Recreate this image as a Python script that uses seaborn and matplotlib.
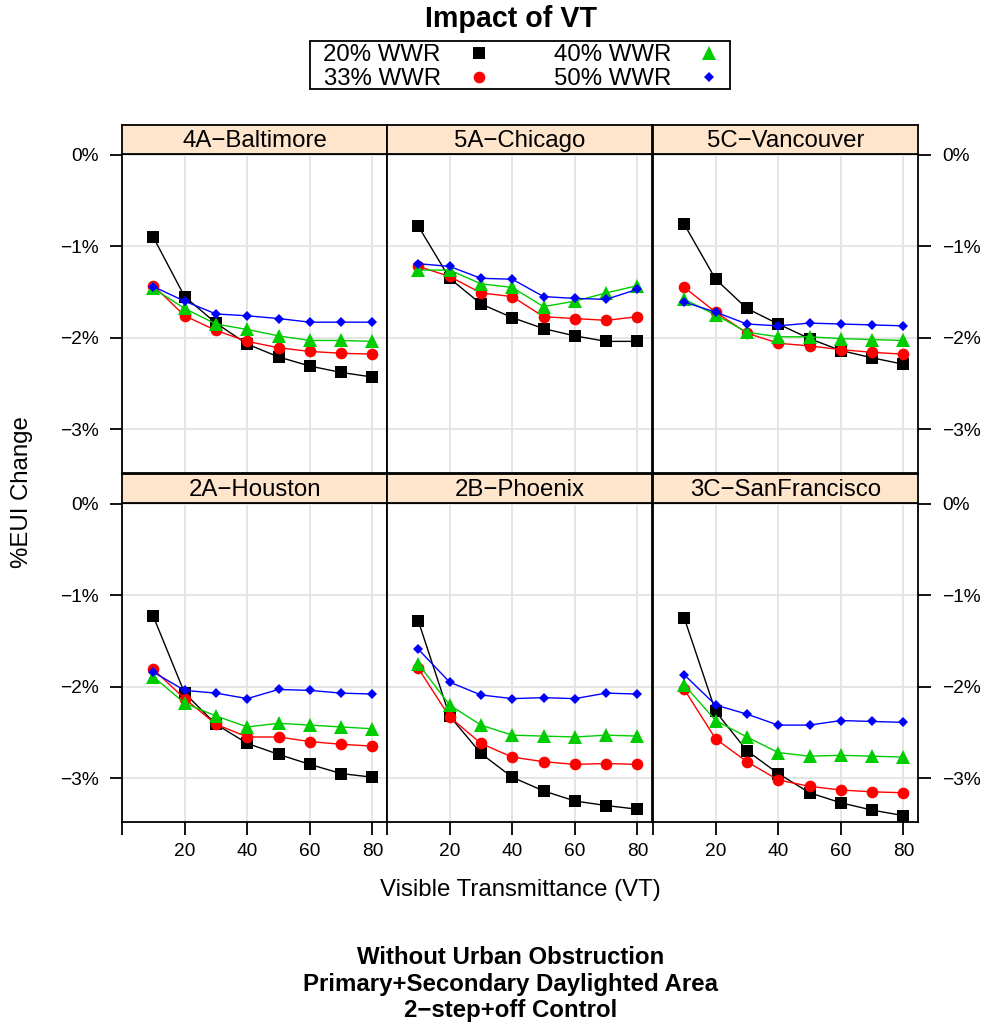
import numpy as np
import pandas as pd
import matplotlib.pyplot as plt
import seaborn as sns
from matplotlib.lines import Line2D
from matplotlib.patches import Rectangle

sns.set_style("white")
plt.rcParams['font.family'] = ['Liberation Sans', 'DejaVu Sans']
plt.rcParams['text.color'] = 'black'
plt.rcParams['axes.labelcolor'] = 'black'
plt.rcParams['xtick.color'] = 'black'
plt.rcParams['ytick.color'] = 'black'

# data (%EUI change), rows = 20%, 33%, 40%, 50% WWR
vt = [10, 20, 30, 40, 50, 60, 70, 80]
wwr_labels = ["20% WWR", "33% WWR", "40% WWR", "50% WWR"]
cities = ["4A\u2212Baltimore", "5A\u2212Chicago", "5C\u2212Vancouver",
          "2A\u2212Houston", "2B\u2212Phoenix", "3C\u2212SanFrancisco"]

baltimore = [[-0.90, -1.55, -1.84, -2.07, -2.21, -2.31, -2.38, -2.43],
             [-1.43, -1.76, -1.92, -2.04, -2.11, -2.15, -2.17, -2.18],
             [-1.46, -1.68, -1.85, -1.91, -1.98, -2.03, -2.03, -2.04],
             [-1.44, -1.60, -1.74, -1.76, -1.79, -1.83, -1.83, -1.83]]
chicago = [[-0.78, -1.35, -1.63, -1.78, -1.90, -1.98, -2.04, -2.04],
           [-1.22, -1.33, -1.51, -1.55, -1.77, -1.79, -1.81, -1.77],
           [-1.26, -1.26, -1.41, -1.45, -1.66, -1.60, -1.51, -1.43],
           [-1.19, -1.22, -1.35, -1.36, -1.55, -1.57, -1.58, -1.47]]
vancouver = [[-0.76, -1.36, -1.68, -1.85, -2.01, -2.14, -2.22, -2.29],
             [-1.45, -1.72, -1.95, -2.06, -2.09, -2.13, -2.16, -2.18],
             [-1.58, -1.75, -1.94, -1.99, -1.99, -2.01, -2.02, -2.03],
             [-1.61, -1.72, -1.85, -1.87, -1.84, -1.85, -1.86, -1.87]]
houston = [[-1.23, -2.07, -2.41, -2.62, -2.74, -2.85, -2.95, -2.99],
           [-1.81, -2.13, -2.41, -2.55, -2.55, -2.60, -2.63, -2.65],
           [-1.89, -2.18, -2.32, -2.44, -2.40, -2.42, -2.44, -2.46],
           [-1.84, -2.04, -2.07, -2.13, -2.03, -2.04, -2.07, -2.08]]
phoenix = [[-1.28, -2.32, -2.73, -2.99, -3.14, -3.25, -3.30, -3.34],
           [-1.80, -2.33, -2.62, -2.77, -2.82, -2.85, -2.84, -2.85],
           [-1.75, -2.20, -2.42, -2.53, -2.54, -2.55, -2.53, -2.54],
           [-1.59, -1.95, -2.09, -2.13, -2.12, -2.13, -2.07, -2.08]]
sanfrancisco = [[-1.25, -2.27, -2.70, -2.95, -3.16, -3.27, -3.35, -3.41],
                [-2.03, -2.57, -2.82, -3.02, -3.09, -3.13, -3.15, -3.16],
                [-1.98, -2.37, -2.55, -2.72, -2.76, -2.75, -2.76, -2.77],
                [-1.87, -2.20, -2.30, -2.42, -2.42, -2.37, -2.38, -2.39]]

city_values = [baltimore, chicago, vancouver, houston, phoenix, sanfrancisco]

rows = []
for city, vals in zip(cities, city_values):
    for lab, series in zip(wwr_labels, vals):
        for x, y in zip(vt, series):
            rows.append({"city": city, "wwr": lab, "vt": x, "eui": y})
df = pd.DataFrame(rows)

colors = {"20% WWR": "black", "33% WWR": "#ff0000", "40% WWR": "#00cc00", "50% WWR": "#0000ff"}
markers = {"20% WWR": "s", "33% WWR": "o", "40% WWR": "^", "50% WWR": "D"}
msizes = {"20% WWR": 8.4, "33% WWR": 8.4, "40% WWR": 9.4, "50% WWR": 5.2}

W, H = 987, 1028
fig = plt.figure(figsize=(W / 100, H / 100), dpi=100)


def fx(px):
    return px / W


def fy(py):
    return 1 - py / H


col_left = [122, 387, 653]
panel_w = 265.5
row_top = [154, 503]
panel_h = 319
strip_h = 29
lw = 1.3
tick_fs = 13.8
base_fs = 17.3

for i, city in enumerate(cities):
    r, c = divmod(i, 3)
    x0 = col_left[c]
    y0 = row_top[r]
    ax = fig.add_axes([fx(x0), fy(y0 + panel_h), panel_w / W, panel_h / H])
    sub = df[df["city"] == city]
    for lab in wwr_labels:
        s = sub[sub["wwr"] == lab]
        sns.lineplot(data=s, x="vt", y="eui", color=colors[lab], marker=markers[lab],
                     markersize=msizes[lab], markeredgewidth=0, linewidth=1.0, ax=ax,
                     zorder=3)
    ax.set_xlim(0, 84.8)
    ax.set_ylim(-3.48, 0.01)
    ax.set_xticks([0, 20, 40, 60, 80])
    ax.set_yticks([0, -1, -2, -3])
    ax.grid(True, color="#e5e5e5", linewidth=1.4)
    ax.set_xlabel("")
    ax.set_ylabel("")
    for sp in ax.spines.values():
        sp.set_color("black")
        sp.set_linewidth(lw)
    ax.tick_params(axis="both", direction="out", length=9, width=lw, color="black",
                   labelsize=tick_fs, labelcolor="black")
    ax.set_yticklabels(["0%", "\u22121%", "\u22122%", "\u22123%"])
    ax.set_xticklabels(["", "20", "40", "60", "80"])
    ax.tick_params(axis="y", pad=8, left=(c == 0), labelleft=(c == 0),
                   right=(c == 2), labelright=(c == 2))
    ax.tick_params(axis="x", pad=6, bottom=(r == 1), labelbottom=(r == 1),
                   top=False, labeltop=False)

    # strip above the panel
    sax = fig.add_axes([fx(x0), fy(y0), panel_w / W, strip_h / H])
    sax.set_facecolor("#ffe5cc")
    sax.set_xticks([])
    sax.set_yticks([])
    for sp in sax.spines.values():
        sp.set_color("black")
        sp.set_linewidth(lw)
    sax.text(0.5, 0.45, city, ha="center", va="center", fontsize=base_fs,
             transform=sax.transAxes)

# title and legend
fig.text(fx(511), fy(19), "Impact of VT", ha="center", va="center",
         fontsize=20.6, fontweight="bold")
handles = [Line2D([], [], color=colors[l], marker=markers[l], linestyle="none",
                  markersize=msizes[l], markeredgewidth=0) for l in wwr_labels]
leg = fig.legend(handles, wwr_labels, ncol=2, loc="center",
                 bbox_to_anchor=(fx(520), fy(67)), markerfirst=False,
                 frameon=False, fontsize=base_fs, labelspacing=0.08, borderpad=0,
                 handlelength=0.6, handletextpad=1.3, columnspacing=2.8,
                 borderaxespad=0)
fig.patches.append(Rectangle((fx(310), fy(89)), fx(730) - fx(310), fy(41) - fy(89),
                             transform=fig.transFigure, fill=False,
                             edgecolor="black", linewidth=lw))

# axis labels
fig.text(fx(22), fy(492), "%EUI Change", rotation=90, ha="center", va="center",
         fontsize=base_fs)
fig.text(fx(520), fy(890), "Visible Transmittance (VT)", ha="center", va="center",
         fontsize=base_fs)

# caption
fig.text(fx(511), fy(984),
         "Without Urban Obstruction\nPrimary+Secondary Daylighted Area\n2\u2212step+off Control",
         ha="center", va="center", fontsize=base_fs, fontweight="bold", linespacing=1.2)

fig.savefig("out.png", dpi=100)
